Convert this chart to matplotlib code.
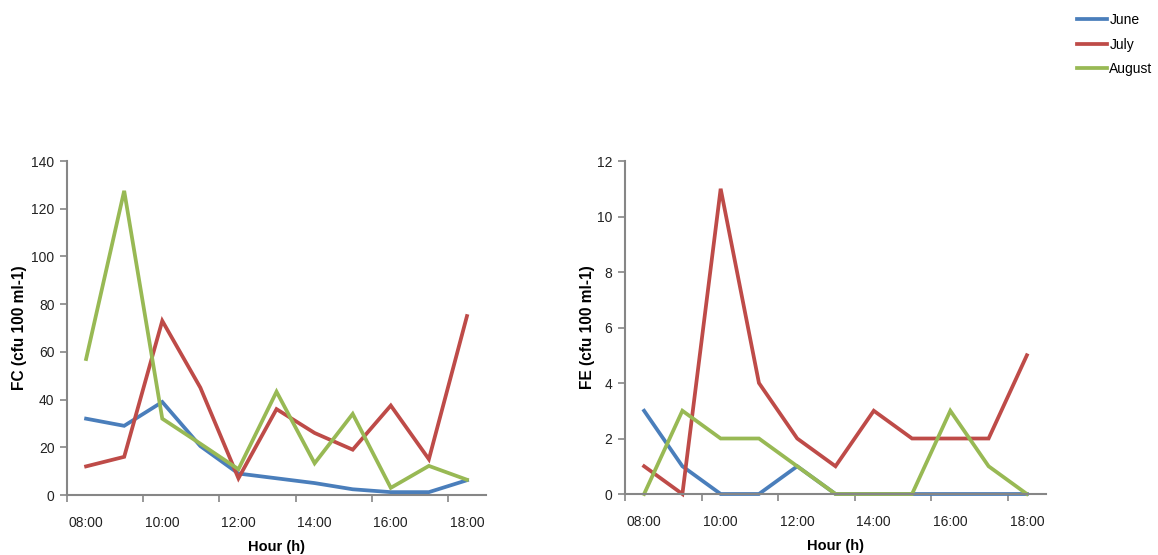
import numpy as np
import matplotlib
matplotlib.use('Agg')
import matplotlib.pyplot as plt

plt.rcParams['font.family'] = ['Liberation Sans', 'DejaVu Sans']

# Data
hours = ['08:00', '09:00', '10:00', '11:00', '12:00', '13:00',
         '14:00', '15:00', '16:00', '17:00', '18:00']
months = ['June', 'July', 'August']

fc_june = [32, 29, 39, 20.5, 9, 7, 5, 2.4, 1.2, 1.2, 6.2]
fc_july = [12, 16, 73, 45, 7, 36, 26, 19, 37.5, 15, 75]
fc_august = [57, 127.5, 32, 21.5, 10.8, 43.3, 13.3, 34, 3, 12.2, 6.4]

fe_june = [3, 1, 0, 0, 1, 0, 0, 0, 0, 0, 0]
fe_july = [1, 0, 11, 4, 2, 1, 3, 2, 2, 2, 5]
fe_august = [0, 3, 2, 2, 1, 0, 0, 0, 3, 1, 0]

colors = ['#4A7EBB', '#BE4B48', '#98B954']
axis_gray = '#868686'

fig = plt.figure(figsize=(11.58, 5.55), dpi=100)
ax1 = fig.add_axes([0.0579, 0.1081, 0.3618, 0.6018])
ax2 = fig.add_axes([0.5397, 0.1099, 0.3636, 0.6000])

x = np.arange(len(hours))


def style_axis(ax, ymax, ystep, ylabel, label_x):
    ax.set_xlim(-0.5, len(hours) - 0.5)
    ax.set_ylim(0, ymax)
    ax.set_yticks(np.arange(0, ymax + 0.001, ystep))
    # tick marks between categories, labels on every second category
    ax.set_xticks(np.arange(-0.5, len(hours) - 1, 2))
    ax.set_xticklabels([])
    ax.set_xticks(x[::2], minor=True)
    ax.set_xticklabels(hours[::2], minor=True)
    ax.tick_params(axis='x', which='major', length=5, width=1.2,
                   color=axis_gray, direction='out')
    ax.tick_params(axis='x', which='minor', length=0, pad=15,
                   labelsize=10, labelcolor='#222222')
    ax.tick_params(axis='y', length=5, width=1.2, color=axis_gray,
                   direction='out', labelsize=10, labelcolor='#222222', pad=4)
    for side in ['top', 'right']:
        ax.spines[side].set_visible(False)
    for side in ['left', 'bottom']:
        ax.spines[side].set_color(axis_gray)
        ax.spines[side].set_linewidth(1.5)
    ax.set_xlabel('Hour (h)', fontsize=10.5, fontweight='bold', labelpad=7)
    ax.set_ylabel(ylabel, fontsize=11.2, fontweight='bold')
    ax.yaxis.set_label_coords(label_x, 0.5)


lines = []
for vals, c, m in zip([fc_june, fc_july, fc_august], colors, months):
    ln, = ax1.plot(x, vals, color=c, lw=2.7, label=m, clip_on=False,
                   solid_joinstyle='miter')
    lines.append(ln)
for vals, c in zip([fe_june, fe_july, fe_august], colors):
    ax2.plot(x, vals, color=c, lw=2.7, clip_on=False, solid_joinstyle='miter')

style_axis(ax1, 140, 20, 'FC (cfu 100 ml-1)', -0.095)
style_axis(ax2, 12, 2, 'FE (cfu 100 ml-1)', -0.071)

fig.legend(handles=lines, loc='upper left', bbox_to_anchor=(0.925, 0.986),
           frameon=False, fontsize=10, handlelength=2.2, handletextpad=0.15,
           labelspacing=0.75, borderaxespad=0)

fig.savefig('out.png', dpi=100)
